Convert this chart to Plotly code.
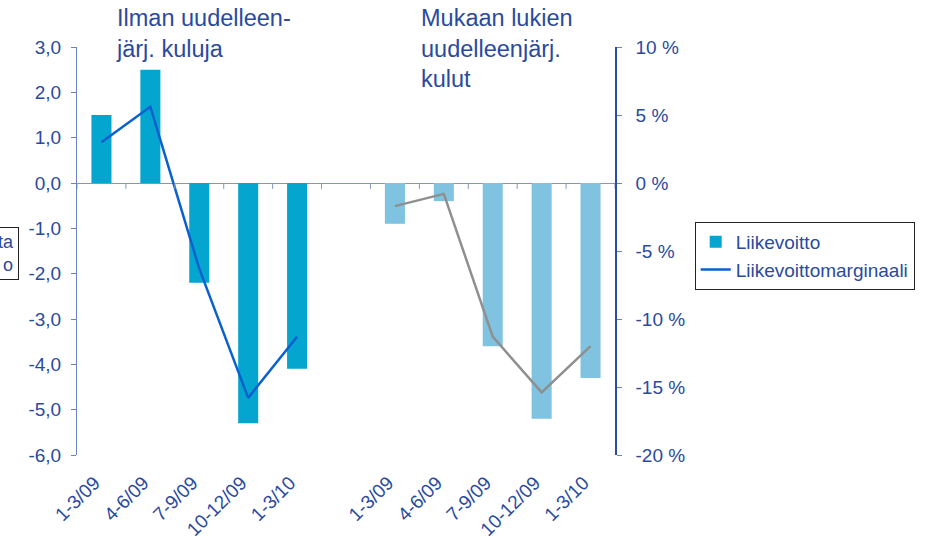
import plotly.graph_objects as go

# ---- data ----
categories = ["1-3/09", "4-6/09", "7-9/09", "10-12/09", "1-3/10", "",
              "1-3/09", "4-6/09", "7-9/09", "10-12/09", "1-3/10"]
x_excl = [0, 1, 2, 3, 4]          # slots: without restructuring costs
x_incl = [6, 7, 8, 9, 10]         # slots: including restructuring costs
profit_excl = [1.5, 2.5, -2.2, -5.3, -4.1]
profit_incl = [-0.9, -0.4, -3.6, -5.2, -4.3]
margin_excl = [3.0, 5.6, -6.3, -15.8, -11.3]
margin_incl = [-1.7, -0.8, -11.3, -15.4, -12.0]

left_ticks = [3, 2, 1, 0, -1, -2, -3, -4, -5, -6]
left_ticktext = ["3,0", "2,0", "1,0", "0,0", "-1,0", "-2,0", "-3,0", "-4,0", "-5,0", "-6,0"]
right_ticks = [10, 5, 0, -5, -10, -15, -20]
right_ticktext = ["10 %", "5 %", "0 %", "-5 %", "-10 %", "-15 %", "-20 %"]

TXT = "#2A4A9E"
FONT = "Liberation Sans, Arial, sans-serif"

fig = go.Figure()
fig.add_trace(go.Bar(x=x_excl, y=profit_excl, name="Liikevoitto",
                     marker=dict(color="#04A6CF", line=dict(width=0))))
fig.add_trace(go.Bar(x=x_incl, y=profit_incl, name="Liikevoitto", showlegend=False,
                     marker=dict(color="#80C3E1", line=dict(width=0))))
fig.add_trace(go.Scatter(x=x_excl, y=margin_excl, yaxis="y2", mode="lines",
                         name="Liikevoittomarginaali",
                         line=dict(color="#0B60D0", width=2.5)))
fig.add_trace(go.Scatter(x=x_incl, y=margin_incl, yaxis="y2", mode="lines",
                         name="Liikevoittomarginaali", showlegend=False,
                         line=dict(color="#8F8F8F", width=2.5)))

# tick marks on the category axis (drawn on the zero line, between categories)
shapes = []
for i in range(len(categories) + 1):
    shapes.append(dict(type="line", xref="x", yref="y", x0=i - 0.5, x1=i - 0.5,
                       y0=0, y1=-0.13, line=dict(color="#8096C8", width=1)))

PL, PR, PT, PB = 77, 617, 47, 455   # plot-area edges in pixels
W, H = 927, 543

def px(x):
    return (x - PL) / (PR - PL)

def py(y):
    return (PB - y) / (PB - PT)

fig.update_layout(
    width=W, height=H,
    margin=dict(l=PL, r=W - PR, t=PT, b=H - PB),
    paper_bgcolor="white", plot_bgcolor="white",
    barmode="overlay", bargap=0.59,
    font=dict(family=FONT, color=TXT, size=19),
    showlegend=True,
    legend=dict(x=px(697), y=py(222), xanchor="left", yanchor="top",
                bordercolor="#222222", borderwidth=1,
                font=dict(family=FONT, size=19, color=TXT),
                itemwidth=30),
    xaxis=dict(range=[-0.5, 10.5], tickmode="array", automargin=False,
               tickvals=list(range(len(categories))), ticktext=categories,
               tickangle=-45, showline=False, showgrid=False, zeroline=False,
               ticks="", ticklabelstandoff=12, ticklabelshift=-7,
               tickfont=dict(size=19, color=TXT)),
    yaxis=dict(range=[-6, 3], tickmode="array", tickvals=left_ticks, automargin=False,
               ticktext=left_ticktext, showgrid=False, zeroline=True,
               zerolinecolor="#8096C8", zerolinewidth=1,
               showline=True, linecolor="#6A84C0", linewidth=1,
               ticks="outside", ticklen=5, tickcolor="#6A84C0",
               ticklabelstandoff=6, tickfont=dict(size=19, color=TXT)),
    yaxis2=dict(range=[-20, 10], overlaying="y", side="right", tickmode="array",
                tickvals=right_ticks, ticktext=right_ticktext, automargin=False,
                showgrid=False, zeroline=False,
                showline=True, linecolor="#2B4BA8", linewidth=1.5,
                ticks="outside", ticklen=5, tickcolor="#6A84C0",
                ticklabelstandoff=10, tickfont=dict(size=19, color=TXT)),
    shapes=shapes,
    annotations=[
        dict(text="Ilman uudelleen-<br>järj. kuluja", xref="paper", yref="paper",
             x=px(114), y=py(3), xanchor="left", yanchor="top",
             align="left", showarrow=False, font=dict(size=23.5, color=TXT, family=FONT)),
        dict(text="Mukaan lukien<br>uudelleenjärj.<br>kulut", xref="paper", yref="paper",
             x=px(420), y=py(3), xanchor="left", yanchor="top",
             align="left", showarrow=False, font=dict(size=23.5, color=TXT, family=FONT)),
        dict(text="\u00a0\u00a0\u00a0\u00a0ta<br>\u00a0\u00a0\u00a0\u00a0\u00a0o", xref="paper", yref="paper",
             x=px(19), y=py(227), xanchor="right", yanchor="top",
             align="right", showarrow=False, bordercolor="#222222", borderwidth=1,
             borderpad=4, font=dict(size=18, color=TXT, family=FONT)),
    ],
)

fig.write_html("out.html", config={"displayModeBar": False},
               post_script="document.body.style.margin='0px';")
